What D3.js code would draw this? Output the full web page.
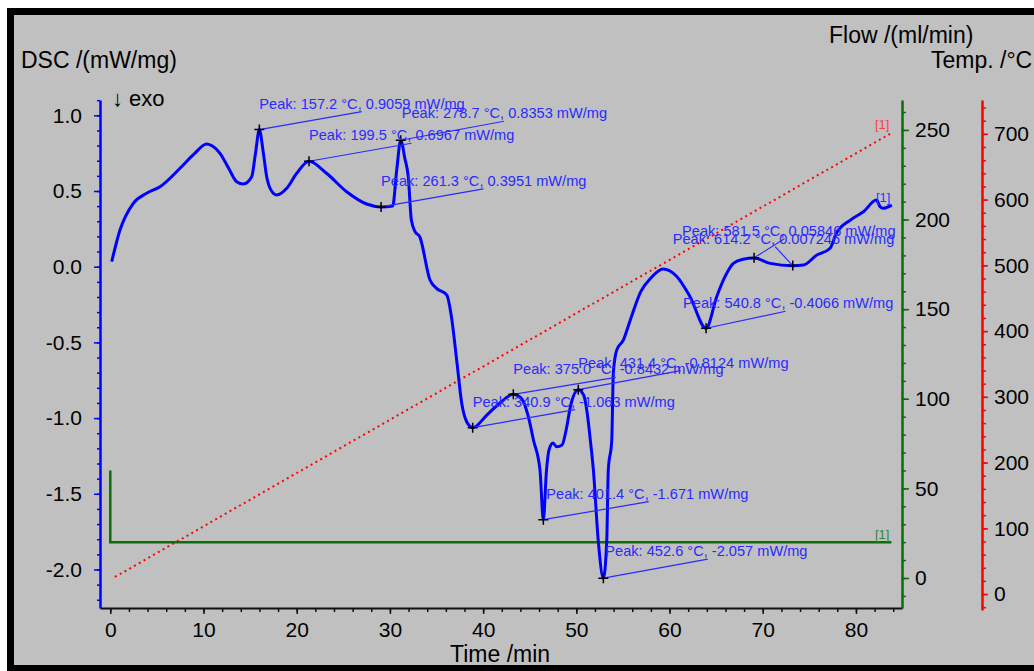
<!DOCTYPE html>
<html>
<head>
<meta charset="utf-8">
<script src="https://cdn.jsdelivr.net/npm/d3@7"></script>
<style>
  body { margin: 0; background: #fff; }
  svg text { font-family: Arial, "Liberation Sans", sans-serif; }
</style>
</head>
<body>
<div id="chart"></div>
<script>
// DSC / flow / temperature against time

// DSC signal, mW/mg
const dscTime = [0.15, 1.04, 2.47, 3.9, 5.33, 7.48, 9.0, 10.34, 11.0, 11.77, 12.7, 13.56, 14.27, 15.17, 15.6, 15.99,
  16.4, 16.78, 17.3, 17.85, 18.93, 20.0, 21.32, 23.2, 25.36, 27.5, 29.05, 30.3, 30.73, 31.16, 31.6, 31.97, 32.3,
  32.7, 33.2, 34.3, 35.0, 36.1, 36.6, 37.2, 37.7, 38.24, 38.88, 40.4, 41.8, 43.24, 44.1, 44.85, 45.4, 46.1, 46.46,
  46.8, 47.07, 47.5, 47.9, 48.47, 48.9, 49.4, 50.21, 50.8, 51.15, 51.5, 51.83, 52.36, 52.9, 53.26, 53.43, 53.8,
  53.97, 54.33, 55.04, 55.8, 56.9, 58.0, 59.3, 60.8, 62.2, 63.92, 65.06, 65.95, 66.85, 67.9, 69.07, 70.8, 73.22,
  74.36, 75.8, 77.2, 77.9, 79.4, 80.8, 82.2, 82.6, 82.9, 83.85];
const dscValue = [0.033, 0.242, 0.419, 0.485, 0.528, 0.65, 0.745, 0.81, 0.795, 0.749, 0.65, 0.561, 0.546, 0.594, 0.76, 0.906,
  0.76, 0.594, 0.5, 0.474, 0.518, 0.617, 0.697, 0.617, 0.495, 0.414, 0.395, 0.401, 0.639, 0.835, 0.716, 0.594, 0.308,
  0.231, 0.198, -0.088, -0.143, -0.187, -0.33, -0.638, -0.9, -1.024, -1.063, -0.98, -0.9, -0.843, -0.87, -0.99, -1.145, -1.343, -1.671,
  -1.343, -1.21, -1.165, -1.19, -1.178, -1.08, -0.914, -0.812, -0.85, -0.96, -1.145, -1.343, -1.816, -2.057, -1.816, -1.343, -1.145,
  -0.7, -0.551, -0.485, -0.35, -0.166, -0.074, -0.015, -0.066, -0.198, -0.407, -0.198, -0.066, 0.022, 0.049, 0.058, 0.022, 0.007,
  0.011, 0.077, 0.12, 0.22, 0.308, 0.363, 0.44, 0.396, 0.386, 0.407];

// purge flow, ml/min
const flowTime = [0, 0, 83.8];
const flowValue = [60, 20, 20];

// furnace temperature, °C
const tempTime = [0.5, 83.66];
const tempValue = [26, 700];

// evaluated peaks
const peakTime = [15.99, 31.16, 21.32, 29.05, 38.88, 43.24, 50.21, 46.46, 52.9, 63.92, 69.07, 73.22];
const peakValue = [0.9059, 0.8353, 0.6967, 0.3951, -1.063, -0.8432, -0.8124, -1.671, -2.057, -0.4066, 0.05846, 0.007246];
const peakTemp = ['157.2', '278.7', '199.5', '261.3', '340.9', '375.0', '431.4', '401.4', '452.6', '540.8', '581.5', '614.2'];
const peakLabel = ['0.9059', '0.8353', '0.6967', '0.3951', '-1.063', '-0.8432', '-0.8124', '-1.671', '-2.057', '-0.4066', '0.05846', '0.007246'];
// label placement relative to peak (px)
const labelDx = [0, 1, 0, 0, 0, 0, 0, 3, 2, -23, -72, -120];
const labelDy = [-26, -27, -26, -26, -26, -25, -27, -26, -27, -25, -27, -27];

const dscTicks = [-2.0, -1.5, -1.0, -0.5, 0.0, 0.5, 1.0];
const timeTicks = [0, 10, 20, 30, 40, 50, 60, 70, 80];
const flowTicks = [0, 50, 100, 150, 200, 250];
const tempTicks = [0, 100, 200, 300, 400, 500, 600, 700];

const W = 1034, H = 671;
const plotL = 100, plotR = 902, plotT = 100, plotB = 608;
const blue = '#0000ff', green = '#0a6e0a', red = '#ff0000', labelBlue = '#2a2aff';

const svg = d3.select('#chart').append('svg')
  .attr('width', W).attr('height', H);

// frame
svg.append('rect').attr('x', 7).attr('y', 8).attr('width', W - 7).attr('height', H - 8).attr('fill', '#000');
svg.append('rect').attr('x', 14).attr('y', 15).attr('width', W - 14).attr('height', 650).attr('fill', '#c0c0c0');

const x = d3.scaleLinear().domain([-1.105, 84.94]).range([plotL, plotR]);
const yDsc = d3.scaleLinear().domain([-2.2543, 1.1011]).range([plotB, plotT]);
const yFlow = d3.scaleLinear().domain([-16.74, 266.7]).range([plotB, plotT]);
const yTemp = d3.scaleLinear().domain([-21.2, 751.5]).range([plotB, plotT]);

function styleAxis(g, color, width) {
  g.select('.domain').attr('stroke', color).attr('stroke-width', width);
  g.selectAll('.tick line').attr('stroke', color).attr('stroke-width', 1.5);
  g.selectAll('.tick text').attr('fill', '#000').style('font-size', '21px');
}

// x axis
const gx = svg.append('g').attr('transform', `translate(0,${plotB})`);
gx.append('g').call(d3.axisBottom(x).tickValues(d3.range(0, 85, 2)).tickSize(4).tickFormat('').tickSizeOuter(0))
  .call(g => styleAxis(g, '#111', 2));
gx.append('g').call(d3.axisBottom(x).tickValues(timeTicks).tickSize(6).tickPadding(8).tickSizeOuter(0))
  .call(g => styleAxis(g, '#111', 2))
  .call(g => g.select('.domain').remove());

// DSC axis
const gl = svg.append('g').attr('transform', `translate(${plotL},0)`);
gl.append('g').call(d3.axisLeft(yDsc).tickValues(d3.range(-22, 12).map(d => d / 10)).tickSize(3).tickFormat('').tickSizeOuter(0))
  .call(g => styleAxis(g, blue, 2.5));
gl.append('g').call(d3.axisLeft(yDsc).tickValues(dscTicks).tickSize(6).tickPadding(12).tickSizeOuter(0))
  .call(g => styleAxis(g, blue, 2.5))
  .call(g => g.select('.domain').remove())
  .call(g => g.selectAll('.tick text').text(d => d.toFixed(1)));

// flow axis
const gf = svg.append('g').attr('transform', `translate(${plotR},0)`);
gf.append('g').call(d3.axisRight(yFlow).tickValues(d3.range(-10, 261, 10)).tickSize(4).tickFormat('').tickSizeOuter(0))
  .call(g => styleAxis(g, green, 2.5));
gf.append('g').call(d3.axisRight(yFlow).tickValues(flowTicks).tickSize(7).tickPadding(6).tickSizeOuter(0))
  .call(g => styleAxis(g, green, 2.5))
  .call(g => g.select('.domain').remove());

// temperature axis
const gt = svg.append('g').attr('transform', `translate(982,0)`);
gt.append('g').call(d3.axisRight(yTemp.copy().range([plotB + 2, plotT]).domain([yTemp.invert(plotB + 2), yTemp.invert(plotT)]))
    .tickValues(d3.range(-20, 741, 20)).tickSize(4).tickFormat('').tickSizeOuter(0))
  .call(g => styleAxis(g, red, 2.5));
gt.append('g').call(d3.axisRight(yTemp).tickValues(tempTicks).tickSize(6).tickPadding(6).tickSizeOuter(0))
  .call(g => styleAxis(g, red, 2.5))
  .call(g => g.select('.domain').remove());

// titles
const title = (tx, ty, s) => svg.append('text').attr('x', tx).attr('y', ty)
  .style('font-size', '23px').attr('fill', '#000').text(s);
title(21, 68, 'DSC /(mW/mg)');
title(829, 43, 'Flow /(ml/min)');
title(931, 68, 'Temp. /°C');
title(450, 662, 'Time /min');
svg.append('text').attr('x', 112).attr('y', 106).style('font-size', '22px').attr('fill', '#000').text('↓ exo');

// temperature (dotted)
svg.append('path')
  .attr('d', d3.line().x(d => x(d[0])).y(d => yTemp(d[1]))(d3.zip(tempTime, tempValue)))
  .attr('fill', 'none').attr('stroke', red).attr('stroke-width', 2).attr('stroke-dasharray', '2,3.5');

// flow
svg.append('path')
  .attr('d', d3.line().x(d => x(d[0])).y(d => yFlow(d[1]))(d3.zip(flowTime, flowValue)))
  .attr('fill', 'none').attr('stroke', green).attr('stroke-width', 2.5);

// DSC
svg.append('path')
  .attr('d', d3.line().curve(d3.curveMonotoneX).x(d => x(d[0])).y(d => yDsc(d[1]))(d3.zip(dscTime, dscValue)))
  .attr('fill', 'none').attr('stroke', blue).attr('stroke-width', 3).attr('stroke-linejoin', 'round');

// curve tags
const tag = (tx, ty, color) => svg.append('text').attr('x', tx).attr('y', ty).attr('dy', '0.35em')
  .style('font-size', '13px').attr('fill', color).text('[1]');
tag(875, 124, '#ff4040');
tag(876, 197, '#3030ff');
tag(875, 534, '#2e8a2e');

// peak annotations
const peaks = svg.append('g');
peakTime.forEach((t, i) => {
  const px = x(t), py = yDsc(peakValue[i]);
  const lx = px + labelDx[i], ly = py + labelDy[i];
  const txt = peaks.append('text').attr('x', lx).attr('y', ly).attr('dy', '0.35em')
    .style('font-size', '14.6px').attr('fill', labelBlue)
    .text(`Peak: ${peakTemp[i]} °C, ${peakLabel[i]} mW/mg`);
  const head = txt.node().getSubStringLength(0, `Peak: ${peakTemp[i]} °C,`.length);
  peaks.append('line')
    .attr('x1', px).attr('y1', py).attr('x2', lx + head).attr('y2', ly + 8)
    .attr('stroke', labelBlue).attr('stroke-width', 1.2);
  peaks.append('path')
    .attr('d', `M${px - 5},${py}H${px + 5}M${px},${py - 5}V${py + 5}`)
    .attr('stroke', '#000').attr('stroke-width', 1.5);
});
</script>
</body>
</html>
